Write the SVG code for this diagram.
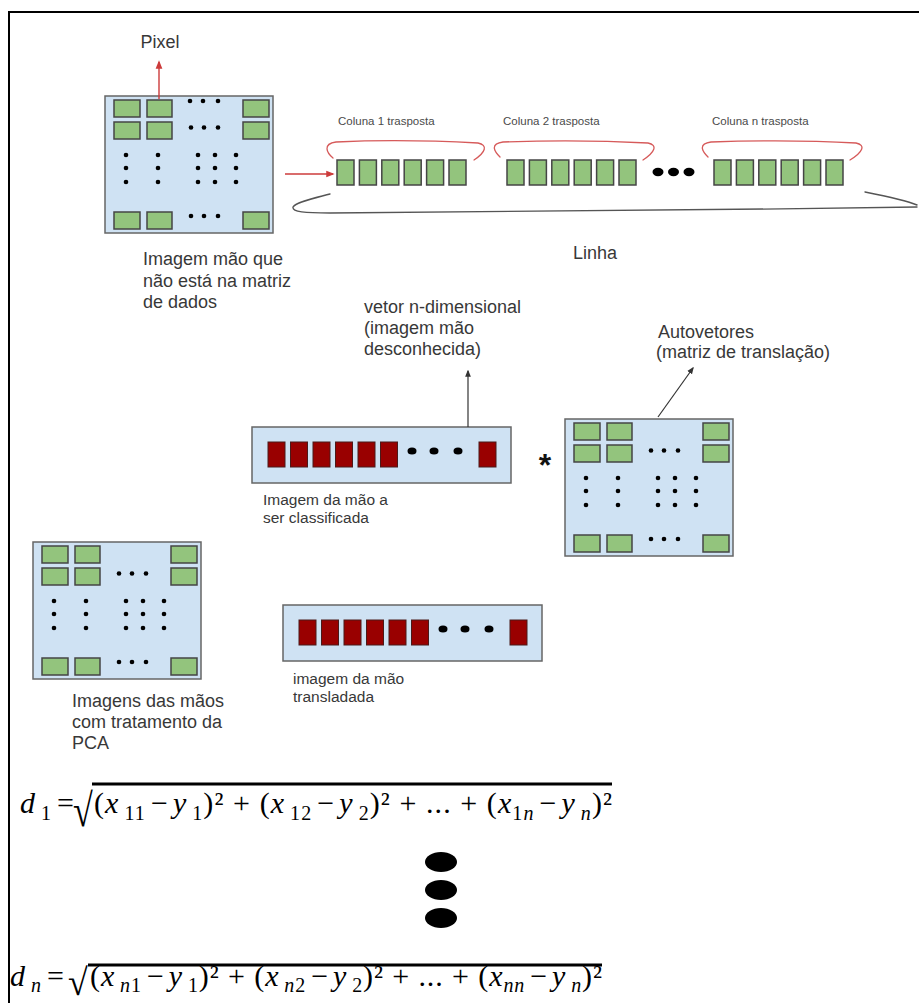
<svg xmlns="http://www.w3.org/2000/svg" width="919" height="1003" viewBox="0 0 919 1003">
  <defs>
    <style>
      .mat{fill:#cfe2f3;stroke:#666;stroke-width:1.5}
      .g{fill:#93c47d;stroke:#454545;stroke-width:1.5}
      .r{fill:#990000;stroke:#4a1a1a;stroke-width:1}
      .dot{fill:#000}
      .lbl{font-family:"Liberation Sans",Arial,sans-serif;fill:#383838}
      .big{font-size:18px}
      .mid{font-size:15.5px}
      .sm{font-size:11.5px;fill:#4a4a4a}
      .math{font-family:"Liberation Serif","Times New Roman",serif;fill:#000;font-size:30px}
      .it{font-style:italic}
      .sub{font-size:20px}
      .redln{fill:none;stroke:#cc3b3b;stroke-width:1.4}
      .brace{fill:none;stroke:#d65a5a;stroke-width:1.3;stroke-linecap:round}
      .grayln{fill:none;stroke:#555;stroke-width:1.4;stroke-linecap:round}
      .darkln{fill:none;stroke:#333;stroke-width:1.2}
    </style>
    <marker id="arrRed" viewBox="0 0 10 10" refX="8" refY="5" markerWidth="6" markerHeight="6" orient="auto">
      <path d="M0,1 L10,5 L0,9 z" fill="#cc3b3b"/>
    </marker>
    <marker id="arrDark" viewBox="0 0 10 10" refX="8" refY="5" markerWidth="6" markerHeight="6" orient="auto">
      <path d="M0,1 L10,5 L0,9 z" fill="#333"/>
    </marker>

    <!-- n x m matrix of pixels -->
    <g id="matrixBase">
      <rect class="mat" x="0" y="0" width="168" height="137"/>
      <rect class="g" x="9" y="4" width="26" height="17"/>
      <rect class="g" x="42" y="4" width="25" height="17"/>
      <rect class="g" x="138" y="4" width="26" height="17"/>
      <rect class="g" x="9" y="26" width="26" height="17"/>
      <rect class="g" x="42" y="26" width="25" height="17"/>
      <rect class="g" x="138" y="26" width="26" height="17"/>
      <rect class="g" x="9" y="116" width="26" height="17"/>
      <rect class="g" x="42" y="116" width="25" height="17"/>
      <rect class="g" x="138" y="116" width="26" height="17"/>
      <g class="dot">
        <circle cx="86" cy="31.5" r="2.3"/><circle cx="99" cy="31.5" r="2.3"/><circle cx="113" cy="31.5" r="2.3"/>
        <circle cx="86" cy="120" r="2.3"/><circle cx="99" cy="120" r="2.3"/><circle cx="113" cy="120" r="2.3"/>
        <circle cx="21" cy="59" r="2.3"/><circle cx="21" cy="72" r="2.3"/><circle cx="21" cy="86" r="2.3"/>
        <circle cx="53" cy="59" r="2.3"/><circle cx="53" cy="72" r="2.3"/><circle cx="53" cy="86" r="2.3"/>
        <circle cx="93" cy="59" r="2.3"/><circle cx="93" cy="72" r="2.3"/><circle cx="93" cy="86" r="2.3"/>
        <circle cx="110" cy="59" r="2.3"/><circle cx="110" cy="72" r="2.3"/><circle cx="110" cy="86" r="2.3"/>
        <circle cx="131" cy="59" r="2.3"/><circle cx="131" cy="72" r="2.3"/><circle cx="131" cy="86" r="2.3"/>
      </g>
    </g>

    <!-- 1 x n row vector -->
    <g id="vectorBase">
      <rect class="mat" x="0" y="0" width="259" height="56"/>
      <rect class="r" x="16" y="15" width="17" height="25"/>
      <rect class="r" x="38.5" y="15" width="17" height="25"/>
      <rect class="r" x="61" y="15" width="17" height="25"/>
      <rect class="r" x="83.5" y="15" width="17" height="25"/>
      <rect class="r" x="106" y="15" width="17" height="25"/>
      <rect class="r" x="128.5" y="15" width="17" height="25"/>
      <rect class="r" x="227" y="15" width="17" height="25"/>
      <g class="dot">
        <ellipse cx="160" cy="24" rx="4.5" ry="3.5"/>
        <ellipse cx="182" cy="24" rx="4.5" ry="3.5"/>
        <ellipse cx="206" cy="24" rx="4.5" ry="3.5"/>
      </g>
    </g>

    <!-- one transposed column: 6 pixels -->
    <g id="cellRow">
      <rect class="g" x="0" y="0" width="17" height="25"/>
      <rect class="g" x="22.4" y="0" width="17" height="25"/>
      <rect class="g" x="44.8" y="0" width="17" height="25"/>
      <rect class="g" x="67.2" y="0" width="17" height="25"/>
      <rect class="g" x="89.6" y="0" width="17" height="25"/>
      <rect class="g" x="112" y="0" width="17" height="25"/>
    </g>
  </defs>

  <rect x="0" y="0" width="919" height="1003" fill="#fff"/>

  <!-- outer frame -->
  <g id="frame">
    <path d="M9,1003 L9,12 L919,12" fill="none" stroke="#000" stroke-width="2"/>
  </g>

  <!-- input image matrix -->
  <g id="inputMatrix">
    <use href="#matrixBase" transform="translate(105,96)"/>
    <g class="dot">
      <circle cx="190" cy="101" r="2.3"/><circle cx="203" cy="101" r="2.3"/><circle cx="218" cy="101" r="2.3"/>
    </g>
    <text class="lbl big" x="160" y="48" text-anchor="middle">Pixel</text>
    <text class="lbl big" x="143" y="265">Imagem mão que</text>
    <text class="lbl big" x="143" y="286.5">não está na matriz</text>
    <text class="lbl big" x="143" y="308">de dados</text>
  </g>

  <!-- matrix unrolled into a single row -->
  <g id="rowVector">
    <use href="#cellRow" transform="translate(337,160)"/>
    <use href="#cellRow" transform="translate(507,160)"/>
    <use href="#cellRow" transform="translate(714,160)"/>
    <g class="dot">
      <ellipse cx="658" cy="172" rx="5.5" ry="4.2"/>
      <ellipse cx="673.5" cy="172" rx="5.5" ry="4.2"/>
      <ellipse cx="689" cy="172" rx="5.5" ry="4.2"/>
    </g>
    <text class="lbl sm" x="338" y="125">Coluna 1 trasposta</text>
    <text class="lbl sm" x="503" y="125">Coluna 2 trasposta</text>
    <text class="lbl sm" x="712" y="125">Coluna n trasposta</text>
    <text class="lbl big" x="573" y="259">Linha</text>
  </g>

  <!-- unknown hand vector -->
  <g id="unknownVector">
    <use href="#vectorBase" transform="translate(252,427)"/>
    <text class="lbl big" x="364" y="313">vetor n-dimensional</text>
    <text class="lbl big" x="364" y="334">(imagem mão</text>
    <text class="lbl big" x="364" y="355">desconhecida)</text>
    <text class="lbl mid" x="263" y="505">Imagem da mão a</text>
    <text class="lbl mid" x="263" y="523">ser classificada</text>
  </g>

  <!-- product operator -->
  <g id="multiply">
    <text x="545" y="476" text-anchor="middle" font-family="Liberation Sans, Arial, sans-serif" font-size="32" font-weight="bold" fill="#111">*</text>
  </g>

  <!-- eigenvector matrix -->
  <g id="eigenMatrix">
    <use href="#matrixBase" transform="translate(565,419)"/>
    <text class="lbl big" x="658" y="338">Autovetores</text>
    <text class="lbl big" x="656" y="358">(matriz de translação)</text>
  </g>

  <!-- PCA-processed training images -->
  <g id="pcaMatrix">
    <use href="#matrixBase" transform="translate(33,542)"/>
    <text class="lbl big" x="72" y="707">Imagens das mãos</text>
    <text class="lbl big" x="72" y="728">com tratamento da</text>
    <text class="lbl big" x="72" y="749">PCA</text>
  </g>

  <!-- projected vector -->
  <g id="translatedVector">
    <use href="#vectorBase" transform="translate(283,605)"/>
    <text class="lbl mid" x="293" y="684">imagem da mão</text>
    <text class="lbl mid" x="293" y="702">transladada</text>
  </g>

  <!-- euclidean distances -->
  <g id="distances">
    <text class="math" x="20" y="813"><tspan class="it">d</tspan><tspan class="sub" dx="6" dy="7">1</tspan><tspan dx="6" dy="-7">=</tspan></text>
    <text class="math" x="0" y="0" font-size="40" transform="translate(73,826) scale(1.2,1.55)">√</text>
    <line x1="92" y1="784" x2="612" y2="784" stroke="#000" stroke-width="2.8"/>
    <text class="math" x="94" y="813" textLength="518" lengthAdjust="spacing">(<tspan class="it">x</tspan><tspan class="sub" dx="5" dy="7">11</tspan><tspan dx="5" dy="-7">−</tspan><tspan class="it" dx="4">y</tspan><tspan class="sub" dx="5" dy="7">1</tspan><tspan dy="-7">)²</tspan> + (<tspan class="it">x</tspan><tspan class="sub" dx="5" dy="7">12</tspan><tspan dx="5" dy="-7">−</tspan><tspan class="it" dx="4">y</tspan><tspan class="sub" dx="5" dy="7">2</tspan><tspan dy="-7">)²</tspan> + ... + (<tspan class="it">x</tspan><tspan class="sub" dy="7">1<tspan class="it">n</tspan></tspan><tspan dx="5" dy="-7">−</tspan><tspan class="it" dx="4">y</tspan><tspan class="sub it" dx="5" dy="7">n</tspan><tspan dy="-7">)²</tspan></text>

    <g class="dot">
      <ellipse cx="441" cy="862" rx="16" ry="10"/>
      <ellipse cx="441" cy="890" rx="16" ry="10"/>
      <ellipse cx="441" cy="918" rx="16" ry="10"/>
    </g>

    <text class="math" x="10" y="986"><tspan class="it">d</tspan><tspan class="sub it" dx="6" dy="6">n</tspan><tspan dx="6" dy="-6">=</tspan></text>
    <text class="math" x="0" y="0" font-size="40" transform="translate(68,995) scale(1.2,1.25)">√</text>
    <line x1="88" y1="965" x2="602" y2="965" stroke="#000" stroke-width="2.8"/>
    <text class="math" x="90" y="986" textLength="512" lengthAdjust="spacing">(<tspan class="it">x</tspan><tspan class="sub it" dx="5" dy="6">n</tspan><tspan class="sub">1</tspan><tspan dx="5" dy="-6">−</tspan><tspan class="it" dx="4">y</tspan><tspan class="sub" dx="5" dy="6">1</tspan><tspan dy="-6">)²</tspan> + (<tspan class="it">x</tspan><tspan class="sub it" dx="5" dy="6">n</tspan><tspan class="sub">2</tspan><tspan dx="5" dy="-6">−</tspan><tspan class="it" dx="4">y</tspan><tspan class="sub" dx="5" dy="6">2</tspan><tspan dy="-6">)²</tspan> + ... + (<tspan class="it">x</tspan><tspan class="sub it" dy="6">nn</tspan><tspan dx="5" dy="-6">−</tspan><tspan class="it" dx="4">y</tspan><tspan class="sub it" dx="5" dy="6">n</tspan><tspan dy="-6">)²</tspan></text>
  </g>

  <!-- connectors, arrows and braces -->
  <g id="connectors">
    <line class="redln" x1="159" y1="99" x2="159" y2="62" marker-end="url(#arrRed)"/>
    <line class="redln" x1="285" y1="174" x2="333" y2="174" marker-end="url(#arrRed)"/>
    <line class="darkln" x1="468" y1="427" x2="468" y2="371" marker-end="url(#arrDark)"/>
    <line class="darkln" x1="658" y1="417" x2="693" y2="368" marker-end="url(#arrDark)"/>

    <path class="brace" d="M333,158 C327,153 322,144 336,142 C380,140 440,141 478,143 C488,145 486,152 474,160"/>
    <path class="brace" d="M500,157 C495,152 489,144 503,142 C560,140 610,141 648,143 C658,145 655,152 643,160"/>
    <path class="brace" d="M708,157 C703,152 697,144 711,142 C770,140 820,141 856,143 C866,145 863,152 850,160"/>

    <path class="grayln" d="M330,194 C315,198 296,202 293,207 C292,212 305,213 330,213 C520,212 720,210 917,207"/>
    <path class="grayln" d="M865,192 C885,196 905,200 917,205"/>
  </g>
</svg>
